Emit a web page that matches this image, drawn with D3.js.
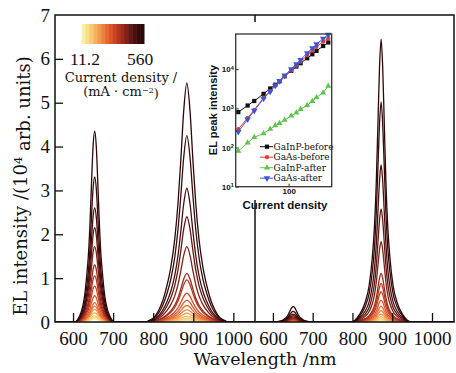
<!DOCTYPE html>
<html>
<head>
<meta charset="utf-8">
<script src="https://cdn.jsdelivr.net/npm/d3@7/dist/d3.min.js"></script>
<style>
  body { margin: 0; background: #fff; }
</style>
</head>
<body>
<svg id="chart" width="456" height="373"></svg>
<script>
// current densities (mA/cm2), one spectrum per value
const currentDensity = [11.2, 16.8, 22.4, 33.6, 44.8, 56, 67.2, 84, 112, 140, 168, 224, 280, 336, 448, 560]

// spectrum peak heights (10^4 arb. units), same order as currentDensity
const gainpBeforePeak = [0.07, 0.1, 0.14, 0.21, 0.29, 0.36, 0.44, 0.6, 0.82, 1.05, 1.3, 1.72, 2.15, 2.6, 3.31, 4.35]
const gaasBeforePeak = [0.026, 0.05, 0.08, 0.13, 0.2, 0.28, 0.38, 0.5, 0.66, 0.96, 1.11, 1.72, 2.4, 3.05, 4.25, 5.45]
const gainpAfterPeak = [0.008, 0.012, 0.017, 0.022, 0.028, 0.034, 0.039, 0.047, 0.061, 0.073, 0.09, 0.113, 0.142, 0.18, 0.24, 0.35]
const gaasAfterPeak = [0.021, 0.045, 0.075, 0.12, 0.18, 0.26, 0.36, 0.5, 0.69, 0.88, 1.11, 1.83, 2.58, 3.58, 5.02, 6.45]

// peak centres (nm)
const gainpBeforeCentre = 654
const gaasBeforeCentre = 884
const gainpAfterCentre = 651
const gaasAfterCentre = 872

// line shapes: offset from centre (nm) and relative intensity
const gainpOffset = [-50, -38, -30, -25, -20, -16, -12, -8, -4, 0, 4, 8, 12, 16, 20, 25, 30, 38, 50]
const gainpShape = [0, 0.03, 0.08, 0.14, 0.24, 0.34, 0.5, 0.72, 0.92, 1, 0.92, 0.72, 0.5, 0.34, 0.24, 0.14, 0.08, 0.03, 0]
const gaasBeforeOffset = [-110, -85, -70, -60, -50, -40, -30, -22, -15, -8, 0, 8, 15, 22, 30, 40, 50, 60, 70, 85, 110]
const gaasBeforeShape = [0, 0.015, 0.05, 0.09, 0.15, 0.23, 0.35, 0.5, 0.68, 0.88, 1, 0.88, 0.68, 0.5, 0.35, 0.23, 0.15, 0.09, 0.05, 0.015, 0]
const gaasAfterOffset = [-75, -55, -40, -30, -22, -17, -12, -8, -4, 0, 4, 8, 12, 17, 22, 30, 40, 55, 75]
const gaasAfterShape = [0, 0.025, 0.07, 0.13, 0.23, 0.33, 0.5, 0.7, 0.9, 1, 0.9, 0.7, 0.5, 0.33, 0.23, 0.13, 0.07, 0.025, 0]

// inset: EL peak intensity vs current density
const insetGainpBefore = [800, 1180, 1540, 2350, 3210, 4000, 4900, 6600, 9100, 11700, 14200, 19000, 24000, 29300, 39000, 48000]
const insetGaasBefore = [295, 575, 912, 1860, 2750, 3800, 4900, 6600, 9330, 12300, 15500, 22400, 29500, 37200, 50100, 61700]
const insetGainpAfter = [81, 132, 182, 229, 295, 363, 417, 501, 646, 776, 955, 1200, 1510, 1900, 2510, 3715]
const insetGaasAfter = [251, 525, 871, 1780, 2690, 3800, 5010, 6920, 10000, 13500, 17400, 25700, 34700, 43700, 60300, 75900]

const wavelengthTicks = [600, 700, 800, 900, 1000]
const intensityTicks = [0, 1, 2, 3, 4, 5, 6, 7]
const insetYTicks = [10, 100, 1000, 10000]
const insetXTicks = [100]

const colorStops = ['#f6f0a0', '#f8d47c', '#f5b25e', '#f18c44', '#e76830', '#d54c25', '#b5361f', '#8c2519', '#631612', '#3e0c0b', '#2b0707']

const serif = "'DejaVu Serif', serif"
const digits = "'Liberation Serif', 'Times New Roman', serif"
const sans = "'Liberation Sans', Arial, sans-serif"

const svg = d3.select('#chart')

const plotLeft = 55, plotTop = 15, plotRight = 454, plotBottom = 322, divider = 255

const y = d3.scaleLinear().domain([0, 7]).range([plotBottom, plotTop])
const xLeft = d3.scaleLinear().domain([555, 1054]).range([plotLeft, divider])
const xRight = d3.scaleLinear().domain([555, 1054]).range([divider, plotRight - 0.5])

const color = d3.scaleLinear()
  .domain(colorStops.map((c, i) => i / (colorStops.length - 1)))
  .range(colorStops)
  .interpolate(d3.interpolateRgb)

const defs = svg.append('defs')
defs.append('clipPath').attr('id', 'clipLeft')
  .append('rect').attr('x', plotLeft).attr('y', plotTop).attr('width', divider - plotLeft).attr('height', plotBottom - plotTop)
defs.append('clipPath').attr('id', 'clipRight')
  .append('rect').attr('x', divider).attr('y', plotTop).attr('width', plotRight - divider).attr('height', plotBottom - plotTop)

function spectrum(peaks) {
  const pts = [[555, 0]]
  peaks.forEach(p => p.offset.forEach((o, k) => pts.push([p.centre + o, p.height * p.shape[k]])))
  pts.push([1054, 0])
  return pts
}

function drawPanel(x, clip, peakA, peakB) {
  const line = d3.line()
    .x(d => x(d[0]))
    .y(d => y(d[1]))
    .curve(d3.curveMonotoneX)

  const curves = currentDensity.map((j, i) => spectrum([
    { centre: peakA.centre, offset: peakA.offset, shape: peakA.shape, height: peakA.heights[i] },
    { centre: peakB.centre, offset: peakB.offset, shape: peakB.shape, height: peakB.heights[i] },
  ]))

  svg.append('g')
    .attr('clip-path', 'url(#' + clip + ')')
    .selectAll('path')
    .data(curves)
    .join('path')
    .attr('d', line)
    .attr('fill', 'none')
    .attr('stroke', (d, i) => color(i / (currentDensity.length - 1)))
    .attr('stroke-width', 1.3)
}

drawPanel(xLeft, 'clipLeft',
  { centre: gainpBeforeCentre, offset: gainpOffset, shape: gainpShape, heights: gainpBeforePeak },
  { centre: gaasBeforeCentre, offset: gaasBeforeOffset, shape: gaasBeforeShape, heights: gaasBeforePeak })
drawPanel(xRight, 'clipRight',
  { centre: gainpAfterCentre, offset: gainpOffset, shape: gainpShape, heights: gainpAfterPeak },
  { centre: gaasAfterCentre, offset: gaasAfterOffset, shape: gaasAfterShape, heights: gaasAfterPeak })

// axes
function styleAxis(g, size) {
  g.select('.domain').remove()
  g.selectAll('.tick line').attr('stroke', '#111').attr('stroke-width', 1.3)
  g.selectAll('.tick text').attr('font-family', digits).attr('font-size', size).attr('fill', '#111')
}

svg.append('g')
  .attr('transform', `translate(${plotLeft},0)`)
  .call(d3.axisLeft(y).tickValues(intensityTicks).tickSize(-8).tickPadding(5).tickFormat(d3.format('d')))
  .call(g => styleAxis(g, 19))
  .call(g => g.selectAll('.tick').filter(d => d === 0 || d === 7).select('line').remove())

;[xLeft, xRight].forEach(x => {
  svg.append('g')
    .attr('transform', `translate(0,${plotBottom})`)
    .call(d3.axisBottom(x).tickValues(wavelengthTicks).tickSize(-9).tickPadding(9.5).tickFormat(d3.format('d')))
    .call(g => styleAxis(g, 19))
})

// frame and panel divider
svg.append('rect')
  .attr('x', plotLeft).attr('y', plotTop)
  .attr('width', plotRight - plotLeft).attr('height', plotBottom - plotTop)
  .attr('fill', 'none').attr('stroke', '#111').attr('stroke-width', 1.5)
svg.append('line')
  .attr('x1', divider).attr('x2', divider)
  .attr('y1', plotTop).attr('y2', plotBottom)
  .attr('stroke', '#111').attr('stroke-width', 1.5)

// axis titles
svg.append('text')
  .attr('x', 265).attr('y', 365)
  .attr('text-anchor', 'middle')
  .attr('font-family', serif).attr('font-size', 17.5).attr('fill', '#111')
  .text('Wavelength /nm')

const yTitle = svg.append('text')
  .attr('transform', 'translate(27,186) rotate(-90)')
  .attr('text-anchor', 'middle')
  .attr('font-family', serif).attr('font-size', 18).attr('fill', '#111')
yTitle.append('tspan').text('EL intensity /(10')
yTitle.append('tspan').attr('dy', '-0.45em').attr('font-size', 11.5).text('4')
yTitle.append('tspan').attr('dy', '0.45em').text(' arb. units)')

// colour bar legend
const barX = d3.scaleBand().domain(d3.range(currentDensity.length)).range([81.7, 144])
svg.append('g')
  .selectAll('rect')
  .data(currentDensity)
  .join('rect')
  .attr('x', (d, i) => barX(i))
  .attr('y', 24)
  .attr('width', barX.bandwidth() + 0.5)
  .attr('height', 20)
  .attr('fill', (d, i) => color(i / (currentDensity.length - 1)))

svg.append('text')
  .attr('x', 85).attr('y', 65).attr('text-anchor', 'middle')
  .attr('font-family', digits).attr('font-size', 17.5).attr('fill', '#111')
  .text(currentDensity[0])
svg.append('text')
  .attr('x', 140).attr('y', 65).attr('text-anchor', 'middle')
  .attr('font-family', digits).attr('font-size', 17.5).attr('fill', '#111')
  .text(currentDensity[currentDensity.length - 1])
svg.append('text')
  .attr('x', 121).attr('y', 82).attr('text-anchor', 'middle')
  .attr('font-family', serif).attr('font-size', 13).attr('fill', '#111')
  .text('Current density /')
const unit = svg.append('text')
  .attr('x', 121).attr('y', 96).attr('text-anchor', 'middle')
  .attr('font-family', serif).attr('font-size', 13).attr('fill', '#111')
unit.append('tspan').text('(mA · cm')
unit.append('tspan').attr('dy', '-0.4em').attr('font-size', 8).text('−2')
unit.append('tspan').attr('dy', '0.4em').text(')')

// inset
const inset = svg.append('g')
inset.append('rect')
  .attr('x', 205).attr('y', 22).attr('width', 135).attr('height', 178)
  .attr('fill', '#fff')

const ix = d3.scaleLog().domain([10, 650]).range([235.7, 331.7])
const iy = d3.scaleLog().domain([10, 79000]).range([186.7, 34])

inset.append('g')
  .attr('transform', 'translate(235.7,0)')
  .call(d3.axisLeft(iy).tickValues(insetYTicks).tickSize(-3).tickPadding(2))
  .call(g => {
    g.select('.domain').remove()
    g.selectAll('.tick line').attr('stroke', '#333')
    g.selectAll('.tick text')
      .attr('font-family', sans).attr('font-weight', 'bold').attr('font-size', 8).attr('fill', '#111')
      .each(function (d) {
        const t = d3.select(this)
        t.text('10')
        t.append('tspan').attr('dy', '-0.45em').attr('font-size', 5.5).text(Math.round(Math.log10(d)))
      })
  })

inset.append('g')
  .attr('transform', 'translate(0,186.7)')
  .call(d3.axisBottom(ix).tickValues(insetXTicks).tickSize(-3).tickPadding(2).tickFormat(d3.format('d')))
  .call(g => {
    g.select('.domain').remove()
    g.selectAll('.tick line').attr('stroke', '#333')
    g.selectAll('.tick text')
      .attr('font-family', sans).attr('font-weight', 'bold').attr('font-size', 8).attr('fill', '#111')
  })

inset.append('text')
  .attr('transform', 'translate(217,110) rotate(-90)')
  .attr('text-anchor', 'middle')
  .attr('font-family', sans).attr('font-weight', 'bold').attr('font-size', 11).attr('fill', '#111')
  .text('EL peak intensity')

inset.append('text')
  .attr('x', 285).attr('y', 209).attr('text-anchor', 'middle')
  .attr('font-family', sans).attr('font-weight', 'bold').attr('font-size', 11.5).attr('fill', '#111')
  .text('Current density')

const insetSeries = [
  { name: 'GaInP-before', values: insetGainpBefore, color: '#111111', symbol: d3.symbolSquare, size: 18, rotate: 0 },
  { name: 'GaAs-before', values: insetGaasBefore, color: '#f2362e', symbol: d3.symbolCircle, size: 14, rotate: 0 },
  { name: 'GaInP-after', values: insetGainpAfter, color: '#5cc54a', symbol: d3.symbolTriangle, size: 16, rotate: 0 },
  { name: 'GaAs-after', values: insetGaasAfter, color: '#3a58d6', symbol: d3.symbolTriangle, size: 18, rotate: 180 },
]

const insetLine = d3.line()
  .x((d, i) => ix(currentDensity[i]))
  .y(d => iy(d))

insetSeries.forEach(s => {
  inset.append('path')
    .attr('d', insetLine(s.values))
    .attr('fill', 'none')
    .attr('stroke', s.color)
    .attr('stroke-width', 1)
  inset.append('g')
    .selectAll('path')
    .data(s.values)
    .join('path')
    .attr('transform', (d, i) => `translate(${ix(currentDensity[i])},${iy(d)}) rotate(${s.rotate})`)
    .attr('d', d3.symbol(s.symbol, s.size))
    .attr('fill', s.color)
})

// inset legend
const legend = inset.append('g')
  .selectAll('g')
  .data(insetSeries)
  .join('g')
  .attr('transform', (d, i) => `translate(260,${146.7 + i * 10.5})`)
legend.append('line')
  .attr('x1', 0).attr('x2', 13)
  .attr('stroke', d => d.color).attr('stroke-width', 1)
legend.append('path')
  .attr('transform', d => `translate(7,0) rotate(${d.rotate})`)
  .attr('d', d => d3.symbol(d.symbol, d.size)())
  .attr('fill', d => d.color)
legend.append('text')
  .attr('x', 13.5).attr('dy', '0.35em')
  .attr('font-family', serif).attr('font-size', 9).attr('fill', '#111')
  .text(d => d.name)

inset.append('rect')
  .attr('x', 235.7).attr('y', 34)
  .attr('width', 331.7 - 235.7).attr('height', 186.7 - 34)
  .attr('fill', 'none').attr('stroke', '#333').attr('stroke-width', 1.3)
</script>
</body>
</html>
